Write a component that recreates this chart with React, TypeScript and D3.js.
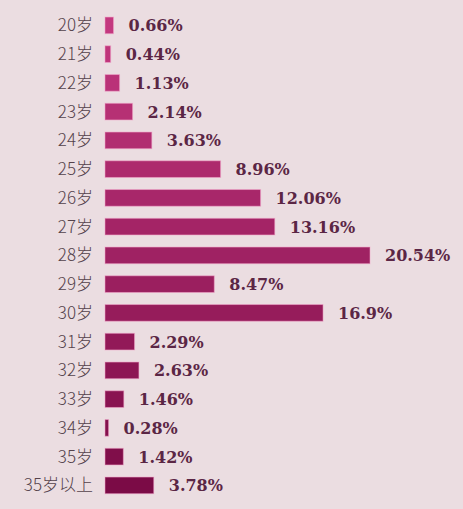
import React, { useEffect, useRef } from 'react';
import * as d3 from 'd3';

const ages = ['20岁', '21岁', '22岁', '23岁', '24岁', '25岁', '26岁', '27岁', '28岁', '29岁', '30岁', '31岁', '32岁', '33岁', '34岁', '35岁', '35岁以上'];
const shares = [0.66, 0.44, 1.13, 2.14, 3.63, 8.96, 12.06, 13.16, 20.54, 8.47, 16.9, 2.29, 2.63, 1.46, 0.28, 1.42, 3.78];
const shareLabels = ['0.66%', '0.44%', '1.13%', '2.14%', '3.63%', '8.96%', '12.06%', '13.16%', '20.54%', '8.47%', '16.9%', '2.29%', '2.63%', '1.46%', '0.28%', '1.42%', '3.78%'];

const W = 463;
const H = 509;

const App: React.FC = () => {
    const ref = useRef<SVGSVGElement>(null);

    useEffect(() => {
        const svg = d3.select(ref.current);
        svg.selectAll('*').remove();

        svg.append('rect').attr('width', W).attr('height', H).attr('fill', '#ebdde1');

        const x = d3.scaleLinear().domain([0, 20.54]).range([105, 370]);
        const y = d3.scaleBand<string>()
            .domain(ages)
            .range([11, 11 + 17 * 28.75])
            .paddingInner(0.42)
            .paddingOuter(0.21);

        const color = d3.scaleLinear<string>()
            .domain([0, ages.length - 1])
            .range(['#c3387f', '#7b0b46'])
            .interpolate(d3.interpolateRgb);

        const rows = svg.selectAll('g.row')
            .data(ages)
            .enter()
            .append('g')
            .attr('class', 'row');

        rows.append('rect')
            .attr('x', x(0))
            .attr('y', (d) => y(d)!)
            .attr('width', (d, i) => x(shares[i]) - x(0))
            .attr('height', y.bandwidth())
            .attr('fill', (d, i) => color(i))
            .attr('stroke', '#f2a6cb')
            .attr('stroke-opacity', 0.55)
            .attr('stroke-width', 1);

        // age labels
        rows.append('text')
            .attr('x', 93)
            .attr('y', (d) => y(d)! + y.bandwidth() / 2)
            .attr('dy', '0.36em')
            .attr('text-anchor', 'end')
            .attr('font-family', '"Noto Sans CJK SC", "Noto Sans", sans-serif')
            .attr('font-size', 17)
            .attr('font-weight', 300)
            .attr('fill', '#54424b')
            .text((d) => d);

        // value labels
        rows.append('text')
            .attr('x', (d, i) => x(shares[i]) + 15)
            .attr('y', (d) => y(d)! + y.bandwidth() / 2)
            .attr('dy', '0.37em')
            .attr('font-family', '"DejaVu Serif", serif')
            .attr('font-size', 16)
            .attr('font-weight', 'bold')
            .attr('fill', '#5b2645')
            .text((d, i) => shareLabels[i]);
    }, []);

    return (
        <svg ref={ref} width={W} height={H}
            style={{ position: 'absolute', left: 0, top: 0, display: 'block' }} />
    );
};

export default App;
